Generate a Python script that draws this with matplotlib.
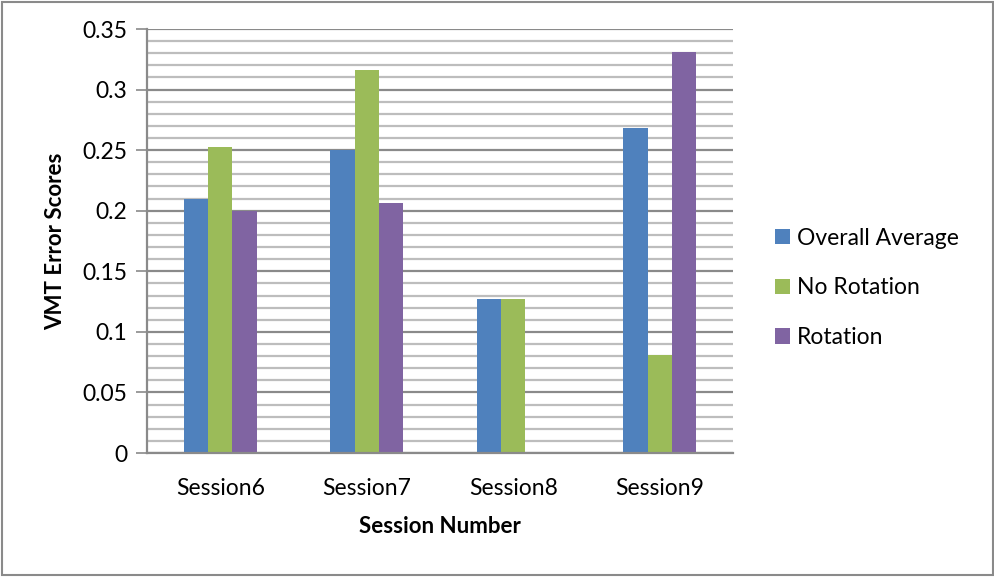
import matplotlib
matplotlib.use("Agg")
import matplotlib.pyplot as plt
import numpy as np
from matplotlib.patches import Rectangle
from matplotlib.ticker import MultipleLocator

plt.rcParams["font.family"] = ["Lato", "DejaVu Sans"]

sessions = ["Session6", "Session7", "Session8", "Session9"]
overall_average = [0.210, 0.250, 0.127, 0.268]
no_rotation = [0.253, 0.316, 0.127, 0.081]
rotation = [0.200, 0.206, 0.0, 0.331]

series = [
    ("Overall Average", overall_average, "#4F81BD"),
    ("No Rotation", no_rotation, "#9BBB59"),
    ("Rotation", rotation, "#8064A2"),
]

fig = plt.figure(figsize=(9.95, 5.77), dpi=100)
ax = fig.add_axes([147 / 995, 1 - 453 / 577, 586 / 995, 424 / 577])

x = np.arange(len(sessions))
width = 0.5 / 3
for i, (name, vals, color) in enumerate(series):
    ax.bar(x + (i - 1) * width, vals, width, color=color, label=name,
           edgecolor="none", zorder=3)

ax.set_xlim(-0.5, len(sessions) - 0.5)
ax.set_ylim(0, 0.35)
ax.yaxis.set_major_locator(MultipleLocator(0.05))
ax.yaxis.set_minor_locator(MultipleLocator(0.01))
ax.set_yticks(np.arange(0, 0.351, 0.05))
ax.set_yticklabels(["0", "0.05", "0.1", "0.15", "0.2", "0.25", "0.3", "0.35"])
ax.set_xticks(x)
ax.set_xticklabels(sessions)

ax.grid(which="minor", axis="y", color="#bdbdbd", lw=1.6, zorder=1)
ax.grid(which="major", axis="y", color="#8a8a8a", lw=1.6, zorder=2)

for side in ["top", "right"]:
    ax.spines[side].set_visible(False)
for side in ["left", "bottom"]:
    ax.spines[side].set_color("#8a8a8a")
    ax.spines[side].set_linewidth(1.6)
    ax.spines[side].set_zorder(4)

ax.tick_params(axis="y", which="major", length=8, width=1.2, color="#8a8a8a",
               labelsize=16.5, pad=6)
ax.tick_params(axis="y", which="minor", length=0)
ax.tick_params(axis="x", length=0, labelsize=16.5, pad=18)

ax.set_ylabel("VMT Error Scores", fontsize=16, weight="bold", labelpad=12)
ax.set_xlabel("Session Number", fontsize=16, weight="bold", labelpad=12)

ax.legend(loc="center left", bbox_to_anchor=(775 / 995, 1 - 288 / 577),
          bbox_transform=fig.transFigure, frameon=False, fontsize=16.5,
          handlelength=0.65, handleheight=0.65, handletextpad=0.3,
          labelspacing=1.25, borderpad=0, borderaxespad=0)

fig.patches.append(Rectangle((2 / 995, 2 / 577), 991 / 995, 573 / 577,
                             transform=fig.transFigure, fill=False,
                             edgecolor="#8a8a8a", lw=1.5))

fig.savefig("out.png", dpi=100)
